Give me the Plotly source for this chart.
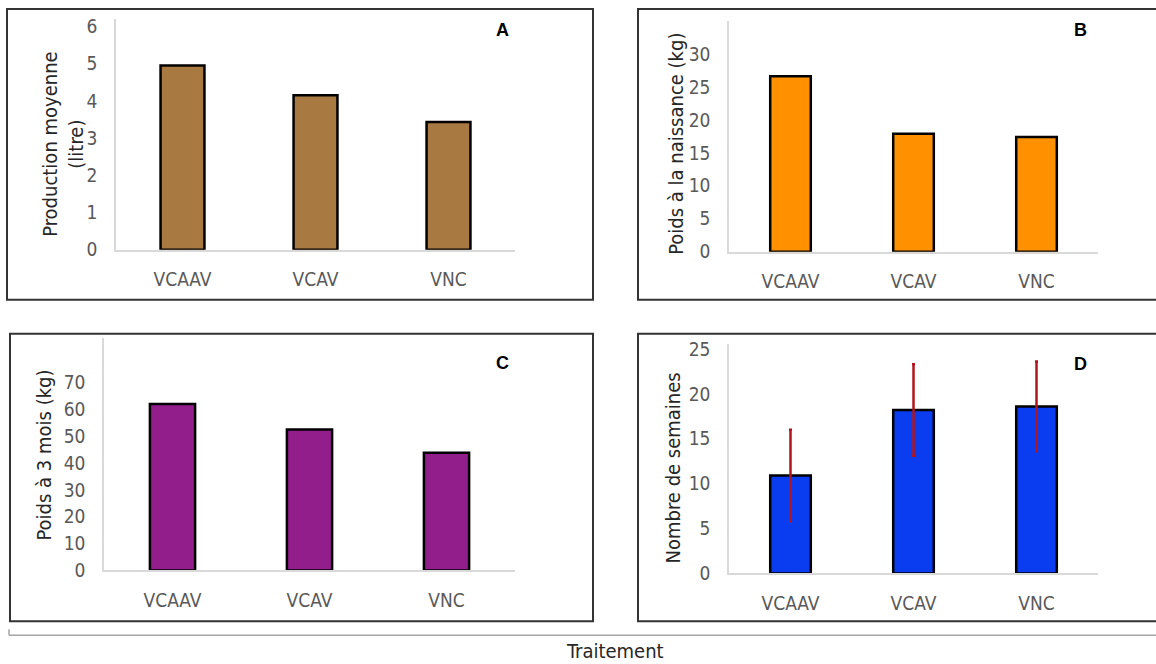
import plotly.graph_objects as go

W, H = 1156, 680

categories = ["VCAAV", "VCAV", "VNC"]
prod_moyenne = [4.95, 4.15, 3.43]
poids_naissance = [26.6, 17.9, 17.4]
poids_3mois = [62.0, 52.5, 43.8]
nb_semaines = [10.9, 18.2, 18.6]
nb_semaines_err = [5.1, 5.1, 5.0]

y_ticks_A = [0, 1, 2, 3, 4, 5, 6]
y_ticks_B = [0, 5, 10, 15, 20, 25, 30]
y_ticks_C = [0, 10, 20, 30, 40, 50, 60, 70]
y_ticks_D = [0, 5, 10, 15, 20, 25]

FONT = "Liberation Sans Narrow, DejaVu Sans Condensed, Liberation Sans, Arial"

# vertical correction observed between requested and photographed positions
Y_OFF, Y_SCALE = 5.0, 0.976

def px_x(p):
    return p / W

def px_y(p):
    q = (p - Y_OFF) / Y_SCALE
    return max(0.0, min(1.0, 1 - q / H))

panels = {
    "A": dict(area=(116, 515, 18, 249), rng=[0, 6.2], ticks=y_ticks_A, vals=prod_moyenne,
              color="#A97942", box=(7, 593, 8, 299), title="Production moyenne<br>(litre)",
              tpos=(63, 143), lpos=(502, 29)),
    "B": dict(area=(729, 1098, 20, 251), rng=[0, 35], ticks=y_ticks_B, vals=poids_naissance,
              color="#FF9100", box=(638, 1162, 8, 299), title="Poids à la naissance (kg)",
              tpos=(676, 143), lpos=(1080, 29)),
    "C": dict(area=(104, 515, 337, 570), rng=[0, 86.7], ticks=y_ticks_C, vals=poids_3mois,
              color="#921E8C", box=(10, 593, 333, 621), title="Poids à 3 mois (kg)",
              tpos=(44, 455), lpos=(502, 362)),
    "D": dict(area=(729, 1098, 343, 573), rng=[0, 25.6], ticks=y_ticks_D, vals=nb_semaines,
              color="#0A3CF0", box=(638, 1162, 333, 621), title="Nombre de semaines",
              tpos=(673, 468), lpos=(1080, 363)),
}

fig = go.Figure()
shapes = []
annotations = []

for i, (key, p) in enumerate(panels.items(), start=1):
    xa = "x" if i == 1 else f"x{i}"
    ya = "y" if i == 1 else f"y{i}"
    bar_kwargs = dict(
        x=categories, y=p["vals"], xaxis=xa, yaxis=ya,
        marker=dict(color=p["color"], line=dict(color="#000000", width=2.5)),
        showlegend=False, hoverinfo="x+y",
    )
    if key == "D":
        bar_kwargs["error_y"] = dict(type="data", array=nb_semaines_err, visible=True,
                                     color="#B0141E", thickness=2.5, width=1.5)
    fig.add_trace(go.Bar(**bar_kwargs))

    x0, x1, yt, yb = p["area"]
    lay_x = "xaxis" if i == 1 else f"xaxis{i}"
    lay_y = "yaxis" if i == 1 else f"yaxis{i}"
    fig.layout[lay_x] = dict(
        domain=[px_x(x0), px_x(x1)], anchor=ya, showline=True, linecolor="#D9D9D9",
        linewidth=1.5, showgrid=False, zeroline=False, ticks="",
        tickfont=dict(family=FONT, size=19, color="#595959"), ticklabelstandoff=12,
        fixedrange=True,
    )
    fig.layout[lay_y] = dict(
        domain=[px_y(yb), px_y(yt)], anchor=xa, range=p["rng"], tickvals=p["ticks"],
        showline=True, linecolor="#D9D9D9", linewidth=1.5, showgrid=False,
        zeroline=False, ticks="", tickfont=dict(family=FONT, size=19, color="#595959"),
        ticklabelstandoff=13, fixedrange=True,
    )
    bx0, bx1, by0, by1 = p["box"]
    shapes.append(dict(type="rect", xref="paper", yref="paper",
                       x0=px_x(bx0), x1=px_x(bx1), y0=px_y(by1), y1=px_y(by0),
                       line=dict(color="#333333", width=2), fillcolor="rgba(0,0,0,0)"))
    annotations.append(dict(text=p["title"], xref="paper", yref="paper",
                            x=px_x(p["tpos"][0]), y=px_y(p["tpos"][1]),
                            xanchor="center", yanchor="middle", textangle=-90,
                            showarrow=False,
                            font=dict(family=FONT, size=20, color="#262626")))
    annotations.append(dict(text=f"<b>{key}</b>", xref="paper", yref="paper",
                            x=px_x(p["lpos"][0]), y=px_y(p["lpos"][1]),
                            xanchor="center", yanchor="middle", showarrow=False,
                            font=dict(family="Liberation Sans, Arial", size=18,
                                      color="#000000")))

shapes.append(dict(type="line", xref="paper", yref="paper",
                   x0=px_x(9), x1=1, y0=px_y(635), y1=px_y(635),
                   line=dict(color="#A6A6A6", width=1.5)))
shapes.append(dict(type="line", xref="paper", yref="paper",
                   x0=px_x(9), x1=px_x(9), y0=px_y(629), y1=px_y(635),
                   line=dict(color="#A6A6A6", width=1.5)))
annotations.append(dict(text="Traitement", xref="paper", yref="paper",
                        x=px_x(615), y=px_y(651), xanchor="center", yanchor="middle",
                        showarrow=False, font=dict(family=FONT, size=20, color="#262626")))

fig.update_layout(
    width=W, height=H, margin=dict(l=0, r=0, t=0, b=0),
    paper_bgcolor="white", plot_bgcolor="white",
    bargap=0.67, shapes=shapes, annotations=annotations,
)

fig.write_html("out.html", config={"displayModeBar": False},
               post_script="document.body.style.margin='0';document.body.style.overflow='hidden';")
